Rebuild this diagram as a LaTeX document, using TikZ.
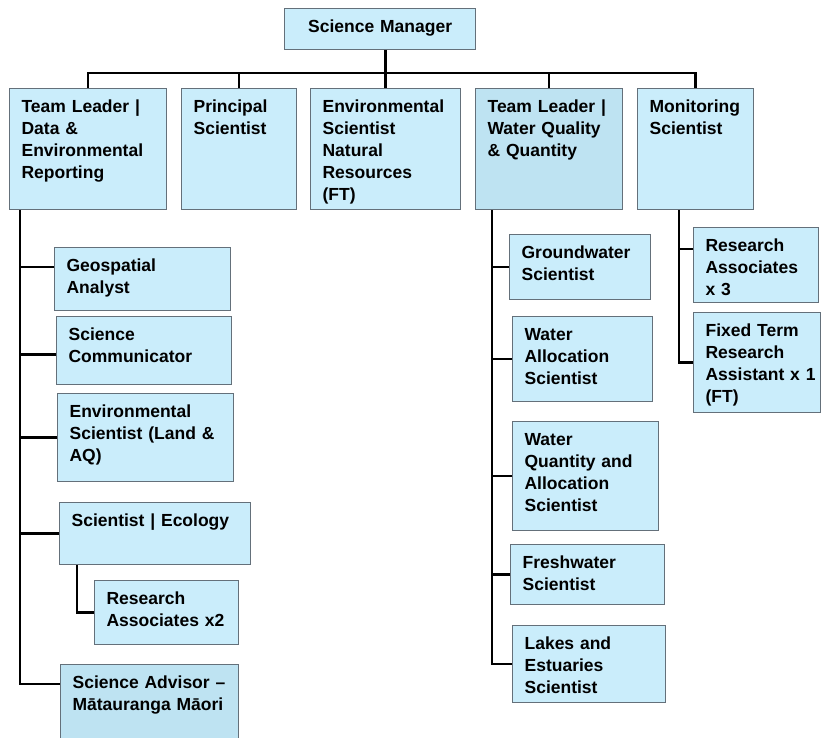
\documentclass[tikz,border=0pt]{standalone}
\usepackage{fontspec}
\setmainfont{Liberation Sans}
\usepackage{xcolor}
\usepackage{tikz}
\usetikzlibrary{positioning,calc}
\definecolor{rolefill}{RGB}{202, 237, 251}
\definecolor{leadfill}{RGB}{190, 227, 242}
\definecolor{roleborder}{RGB}{100, 112, 122}

\begin{document}
\begin{tikzpicture}[
  x=1pt, y=-1pt,
  role/.style={rectangle, draw=roleborder, fill=rolefill, line width=1.2pt, anchor=north west, align=left, inner xsep=12pt, inner ysep=12pt, text height=12pt, font=\fontsize{17.5}{22}\selectfont\bfseries},
  lead/.style={role, fill=leadfill},
  link/.style={draw=black, line width=2.6pt}
]
\clip (0,0) rectangle (821,738);

% Top of the chart
\node[role, align=center, text width=167pt, text depth=5pt] (mgr) at (284,8) {Science Manager};

% Second row, 121pt tall
\node[role, text width=133pt, text depth=85pt] (tl1) at (9,88) {Team Leader |\\Data \&\\Environmental\\Reporting};
\node[role, text width=91pt, text depth=85pt] (prin) at (181,88) {Principal\\Scientist};
\node[role, text width=126pt, text depth=85pt] (env) at (310,88) {Environmental\\Scientist\\Natural\\Resources\\(FT)};
\node[lead, text width=123pt, text depth=85pt] (tl2) at (475,88) {Team Leader |\\Water Quality\\\& Quantity};
\node[role, text width=92pt, text depth=85pt] (mon) at (637,88) {Monitoring\\Scientist};

% Bus between manager and second row
\coordinate (bus) at (386,73);
\draw[link] (env.north |- mgr.south) -- (env.north);
\draw[link] (tl1.north) |- (bus) -| (mon.north);
\draw[link] (prin.north) -- (prin.north |- bus);
\draw[link] (tl2.north) -- (tl2.north |- bus);

% Data & Environmental Reporting team
\node[role, text width=152pt, text depth=27pt] (geo) at (54,247) {Geospatial\\Analyst};
\node[role, text width=151pt, text depth=32pt] (comm) at (56,316) {Science\\Communicator};
\node[role, text width=152pt, text depth=52pt] (land) at (57,393) {Environmental\\Scientist (Land \&\\AQ)};
\node[role, text width=167pt, text depth=26pt] (eco) at (59,502) {Scientist | Ecology};
\node[role, text width=120pt, text depth=28pt] (ra2) at (94,580) {Research\\Associates x2};
\node[lead, text width=154pt, text depth=60pt] (adv) at (60,664) {Science Advisor --\\Mātauranga Māori};

\coordinate (lspine) at ([xshift=11pt]tl1.south west);
\draw[link] (lspine) |- ([yshift=-20pt]adv.north west);
\draw[link] ([yshift=12pt]geo.west) -- ([yshift=12pt]geo.west -| lspine);
\draw[link] ([yshift=-4pt]comm.west) -- ([yshift=-4pt]comm.west -| lspine);
\draw[link] (land.west) -- (land.west -| lspine);
\draw[link] (eco.west) -- (eco.west -| lspine);
\draw[link] ([xshift=18pt]eco.south west) |- (ra2.west);

% Water Quality & Quantity team
\node[role, text width=117pt, text depth=29pt] (gw) at (509,234) {Groundwater\\Scientist};
\node[role, text width=116pt, text depth=49pt] (walloc) at (512,316) {Water\\Allocation\\Scientist};
\node[role, text width=122pt, text depth=73pt] (wqa) at (512,421) {Water\\Quantity and\\Allocation\\Scientist};
\node[role, text width=130pt, text depth=24pt] (fresh) at (510,544) {Freshwater\\Scientist};
\node[role, text width=129pt, text depth=41pt] (lakes) at (512,625) {Lakes and\\Estuaries\\Scientist};

\coordinate (mspine) at ([xshift=17pt]tl2.south west);
\draw[link] (mspine) |- (lakes.west);
\draw[link] (gw.west) -- (gw.west -| mspine);
\draw[link] (walloc.west) -- (walloc.west -| mspine);
\draw[link] (wqa.west) -- (wqa.west -| mspine);
\draw[link] (fresh.west) -- (fresh.west -| mspine);

% Monitoring team
\node[role, text width=101pt, text depth=39pt] (ra3) at (693,227) {Research\\Associates\\x 3};
\node[role, text width=103pt, text depth=64pt] (fixed) at (693,312) {Fixed Term\\Research\\\mbox{Assistant x 1}\\(FT)};

\coordinate (rspine) at ([xshift=42pt]mon.south west);
\draw[link] (rspine) |- (fixed.west);
\draw[link] ([yshift=16pt]ra3.west) -- ([yshift=16pt]ra3.west -| rspine);

\end{tikzpicture}
\end{document}
